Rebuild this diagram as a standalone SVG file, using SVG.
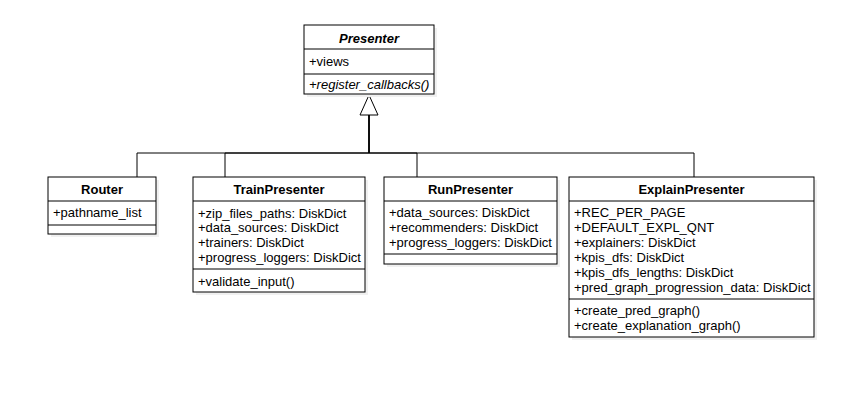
<svg xmlns="http://www.w3.org/2000/svg" width="841" height="400" viewBox="0 0 841 400">
<style>
  .box { fill: #ffffff; stroke: #000000; stroke-width: 1; }
  .shadow { fill: #f0f0f0; stroke: none; }
  .sep { stroke: #000000; stroke-width: 1; fill: none; }
  .edge { stroke: #000000; stroke-width: 1; fill: none; }
  text { font-family: "Liberation Sans", Arial, Helvetica, sans-serif; font-size: 13px; fill: #000000; }
  .title { font-weight: bold; text-anchor: middle; }
  .it { font-style: italic; }
</style>
<rect x="0" y="0" width="841" height="400" fill="#ffffff"/>

<g id="connectors">
  <path class="edge" d="M369,115 V153 H137 V177"/>
  <path class="edge" d="M369,115 V153 H225 V177"/>
  <path class="edge" d="M369,115 V153 H417 V177"/>
  <path class="edge" d="M369,115 V153 H694 V177"/>
  <polygon points="369,95 378,115 360,115" fill="#ffffff" stroke="#000000" stroke-width="1"/>
</g>

<g id="Presenter">
  <rect class="shadow" x="307" y="28" width="130" height="69"/>
  <rect class="box" x="304" y="25" width="130" height="69"/>
  <line class="sep" x1="304" y1="49" x2="434" y2="49"/>
  <line class="sep" x1="304" y1="74" x2="434" y2="74"/>
  <text class="title it" x="369" y="42.8">Presenter</text>
  <text x="309" y="66.2">+views</text>
  <text class="it" x="309" y="88.8">+register_callbacks()</text>
</g>

<g id="Router">
  <rect class="shadow" x="51" y="180" width="108" height="57"/>
  <rect class="box" x="48" y="177" width="108" height="57"/>
  <line class="sep" x1="48" y1="201" x2="156" y2="201"/>
  <line class="sep" x1="48" y1="225" x2="156" y2="225"/>
  <text class="title" x="102" y="193.5">Router</text>
  <text x="53" y="217.2">+pathname_list</text>
</g>

<g id="TrainPresenter">
  <rect class="shadow" x="196" y="180" width="172" height="115"/>
  <rect class="box" x="193" y="177" width="172" height="115"/>
  <line class="sep" x1="193" y1="201" x2="365" y2="201"/>
  <line class="sep" x1="193" y1="269" x2="365" y2="269"/>
  <text class="title" x="279" y="193.5">TrainPresenter</text>
  <text x="198" y="217.5">+zip_files_paths: DiskDict</text>
  <text x="198" y="232.3">+data_sources: DiskDict</text>
  <text x="198" y="247.1">+trainers: DiskDict</text>
  <text x="198" y="261.9">+progress_loggers: DiskDict</text>
  <text x="198" y="286.2">+validate_input()</text>
</g>

<g id="RunPresenter">
  <rect class="shadow" x="387" y="180" width="173" height="87"/>
  <rect class="box" x="384" y="177" width="173" height="87"/>
  <line class="sep" x1="384" y1="201" x2="557" y2="201"/>
  <line class="sep" x1="384" y1="254" x2="557" y2="254"/>
  <text class="title" x="470.5" y="193.5">RunPresenter</text>
  <text x="389" y="217.2">+data_sources: DiskDict</text>
  <text x="389" y="232">+recommenders: DiskDict</text>
  <text x="389" y="246.8">+progress_loggers: DiskDict</text>
</g>

<g id="ExplainPresenter">
  <rect class="shadow" x="572" y="180" width="245" height="160"/>
  <rect class="box" x="569" y="177" width="245" height="160"/>
  <line class="sep" x1="569" y1="201" x2="814" y2="201"/>
  <line class="sep" x1="569" y1="299" x2="814" y2="299"/>
  <text class="title" x="691.5" y="193.5">ExplainPresenter</text>
  <text x="574" y="217.2">+REC_PER_PAGE</text>
  <text x="574" y="232">+DEFAULT_EXPL_QNT</text>
  <text x="574" y="246.9">+explainers: DiskDict</text>
  <text x="574" y="261.8">+kpis_dfs: DiskDict</text>
  <text x="574" y="276.7">+kpis_dfs_lengths: DiskDict</text>
  <text x="574" y="291.6">+pred_graph_progression_data: DiskDict</text>
  <text x="574" y="315.2">+create_pred_graph()</text>
  <text x="574" y="330.2">+create_explanation_graph()</text>
</g>
</svg>
